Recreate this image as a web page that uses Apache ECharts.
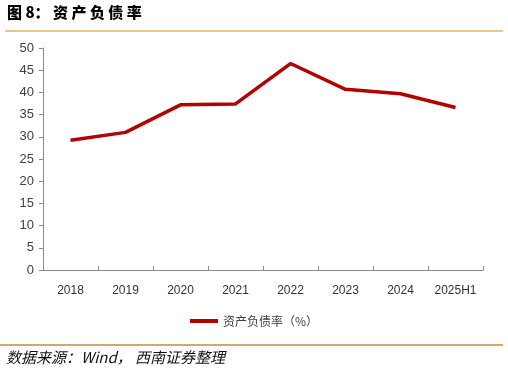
<!DOCTYPE html>
<html><head><meta charset="utf-8">
<script src="https://cdn.jsdelivr.net/npm/echarts@6/dist/echarts.min.js"></script>
<style>html,body{margin:0;padding:0;background:#fff}#c{width:508px;height:376px}</style>
</head><body><div id="c"></div>
<script>
const categories = ['2018','2019','2020','2021','2022','2023','2024','2025H1'];
const debtRatio = [29.2, 31.0, 37.2, 37.4, 46.5, 40.7, 39.7, 36.6];
const seriesName = '资产负债率（%）';
const yTicks = {min: 0, max: 50, interval: 5};

const chart = echarts.init(document.getElementById('c'));
chart.setOption({
  animation: false,
  backgroundColor: '#fff',
  grid: {left: 43, right: 25, top: 48, bottom: 106},
  xAxis: {
    type: 'category', data: categories, boundaryGap: true,
    axisLine: {lineStyle: {color: '#898989', width: 1}},
    axisTick: {show: true, inside: true, length: 4, lineStyle: {color: '#898989'}},
    axisLabel: {color: '#333', fontSize: 12, fontFamily: 'Liberation Sans Narrow, Liberation Sans, sans-serif', margin: 15}
  },
  yAxis: {
    type: 'value', min: yTicks.min, max: yTicks.max, interval: yTicks.interval,
    axisLine: {show: true, lineStyle: {color: '#898989', width: 1}},
    axisTick: {show: true, length: 4, lineStyle: {color: '#898989'}},
    splitLine: {show: false},
    axisLabel: {color: '#404040', fontSize: 13, fontFamily: 'Liberation Sans Narrow, Liberation Sans, sans-serif', margin: 9}
  },
  legend: {
    data: [seriesName], bottom: 44, left: 'center', itemWidth: 28, itemHeight: 4, itemGap: 4,
    icon: 'rect',
    textStyle: {color: '#404040', fontSize: 12, fontFamily: 'Noto Sans CJK SC, sans-serif'}
  },
  series: [{
    name: seriesName, type: 'line', data: debtRatio, symbol: 'none',
    lineStyle: {color: '#B30000', width: 3.5}, itemStyle: {color: '#B30000'}
  }],
  graphic: [
    {type: 'text', left: 7, top: 5, style: {text: '图 8： 资 产 负 债 率', fill: '#000', font: '900 15px "Noto Sans CJK SC", sans-serif'}},
    {type: 'rect', shape: {x: 5, y: 30, width: 498, height: 2}, style: {fill: '#EBC48A'}},
    {type: 'rect', shape: {x: 0, y: 344, width: 503, height: 2}, style: {fill: '#D3A868'}},
    {type: 'text', left: 6, top: 350, style: {text: '数据来源：Wind， 西南证券整理', fill: '#111', font: 'italic 15px "Noto Sans CJK SC", sans-serif'}}
  ]
});
</script></body></html>
